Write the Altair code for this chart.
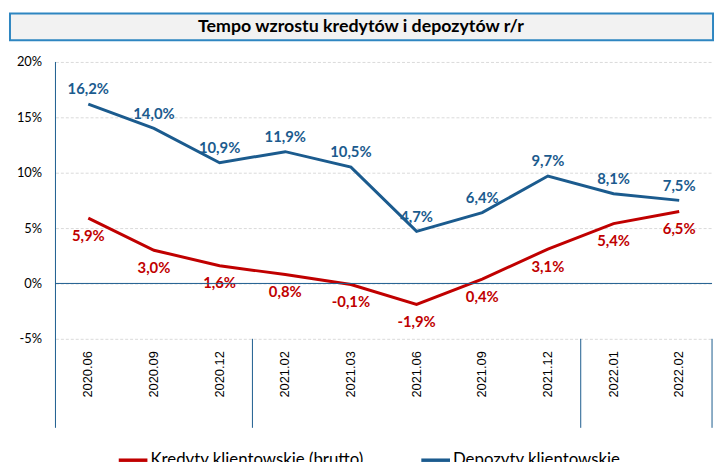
import altair as alt
import pandas as pd

# ---- data ----
categories = ["2020.06", "2020.09", "2020.12", "2021.02", "2021.03",
              "2021.06", "2021.09", "2021.12", "2022.01", "2022.02"]
loans = [5.9, 3.0, 1.6, 0.8, -0.1, -1.9, 0.4, 3.1, 5.4, 6.5]
deposits = [16.2, 14.0, 10.9, 11.9, 10.5, 4.7, 6.4, 9.7, 8.1, 7.5]
series_names = ["Kredyty klientowskie (brutto)", "Depozyty klientowskie"]
title_text = "Tempo wzrostu kredytów i depozytów r/r"
y_ticks = [-5, 0, 5, 10, 15, 20]

RED = "#C00000"
BLUE = "#1B5B8E"
FONT = "Lato"


def fmt(v):
    return f"{v:.1f}".replace(".", ",") + "%"


rows = []
for s, vals in zip(series_names, [loans, deposits]):
    for c, v in zip(categories, vals):
        rows.append({"cat": c, "value": v, "series": s, "label": fmt(v)})
df = pd.DataFrame(rows)

# year boundaries (where the year changes)
boundaries = [categories[i] for i in range(1, len(categories))
              if categories[i][:4] != categories[i - 1][:4]]

xscale = alt.Scale(type="band", domain=categories, paddingInner=0, paddingOuter=0)
yscale = alt.Scale(domain=[-5, 20], nice=False, zero=False)

x_axis = alt.Axis(title=None, labelAngle=270, domain=False, ticks=False,
                  labelPadding=12, labelFontSize=13, labelColor="black",
                  labelFont="Liberation Sans", grid=False)
y_axis = alt.Axis(values=y_ticks, labelExpr="datum.value + '%'", title=None,
                  domain=False, ticks=False, grid=True, gridDash=[3, 2],
                  gridColor="#DADADA", labelPadding=14, labelFontSize=13,
                  labelColor="black", labelFont=FONT)


def X(bp=0.5):
    return alt.X("cat:N", scale=xscale, bandPosition=bp, axis=x_axis)


Y = alt.Y("value:Q", scale=yscale, axis=y_axis)

cscale = alt.Scale(domain=series_names, range=[RED, BLUE])
color = alt.Color("series:N", scale=cscale,
                  legend=alt.Legend(orient="none", legendX=62, legendY=386,
                                    direction="horizontal", title=None,
                                    symbolType="stroke", symbolSize=841,
                                    symbolStrokeWidth=3.5, labelFontSize=17,
                                    labelFont=FONT, labelColor="black",
                                    labelLimit=400,
                                    columnPadding=51, labelOffset=1))
color_nolegend = alt.Color("series:N", scale=cscale, legend=None)

base = alt.Chart(df)

lines = base.mark_line(strokeWidth=3).encode(x=X(), y=Y, color=color)

text_dep = base.transform_filter(alt.datum.series == series_names[1]).mark_text(
    dy=-15, fontSize=15, fontWeight="bold", font=FONT
).encode(x=X(), y=Y, text="label:N", color=color_nolegend)

text_loan = base.transform_filter(alt.datum.series == series_names[0]).mark_text(
    dy=18, fontSize=15, fontWeight="bold", font=FONT
).encode(x=X(), y=Y, text="label:N", color=color_nolegend)

zero_rule = alt.Chart(pd.DataFrame({"value": [0]})).mark_rule(
    color=BLUE, strokeWidth=1).encode(y=Y)

left_line = alt.Chart(pd.DataFrame({"cat": [categories[0]]})).mark_rule(
    color=BLUE, strokeWidth=1).encode(x=X(0), y=alt.value(0), y2=alt.value(370))

sep_lines = alt.Chart(pd.DataFrame({"cat": boundaries})).mark_rule(
    color=BLUE, strokeWidth=1).encode(x=X(0), y=alt.value(280), y2=alt.value(370))

right_line = alt.Chart(pd.DataFrame({"cat": [categories[-1]]})).mark_rule(
    color=BLUE, strokeWidth=1).encode(x=X(1), y=alt.value(280), y2=alt.value(370))

title_df = pd.DataFrame({"t": [title_text]})
title_box = alt.Chart(title_df).mark_rect(
    fill="#F2F2F2", stroke="#2E86C1", strokeWidth=2).encode(
    x=alt.value(-46), x2=alt.value(665), y=alt.value(-49), y2=alt.value(-22))
title_lbl = alt.Chart(title_df).mark_text(
    fontSize=18, fontWeight="bold", font=FONT, color="black").encode(
    x=alt.value(309), y=alt.value(-35), text="t:N")

chart = alt.layer(
    lines, text_dep, text_loan, zero_rule, left_line, sep_lines, right_line,
    title_box, title_lbl
).properties(
    width=664, height=280,
    autosize=alt.AutoSizeParams(type="none"),
    padding={"left": 48, "top": 52, "right": 3, "bottom": 122},
).configure(font=FONT).configure_view(stroke=None)

chart.save("out.html", embed_options={"renderer": "svg", "actions": False})
